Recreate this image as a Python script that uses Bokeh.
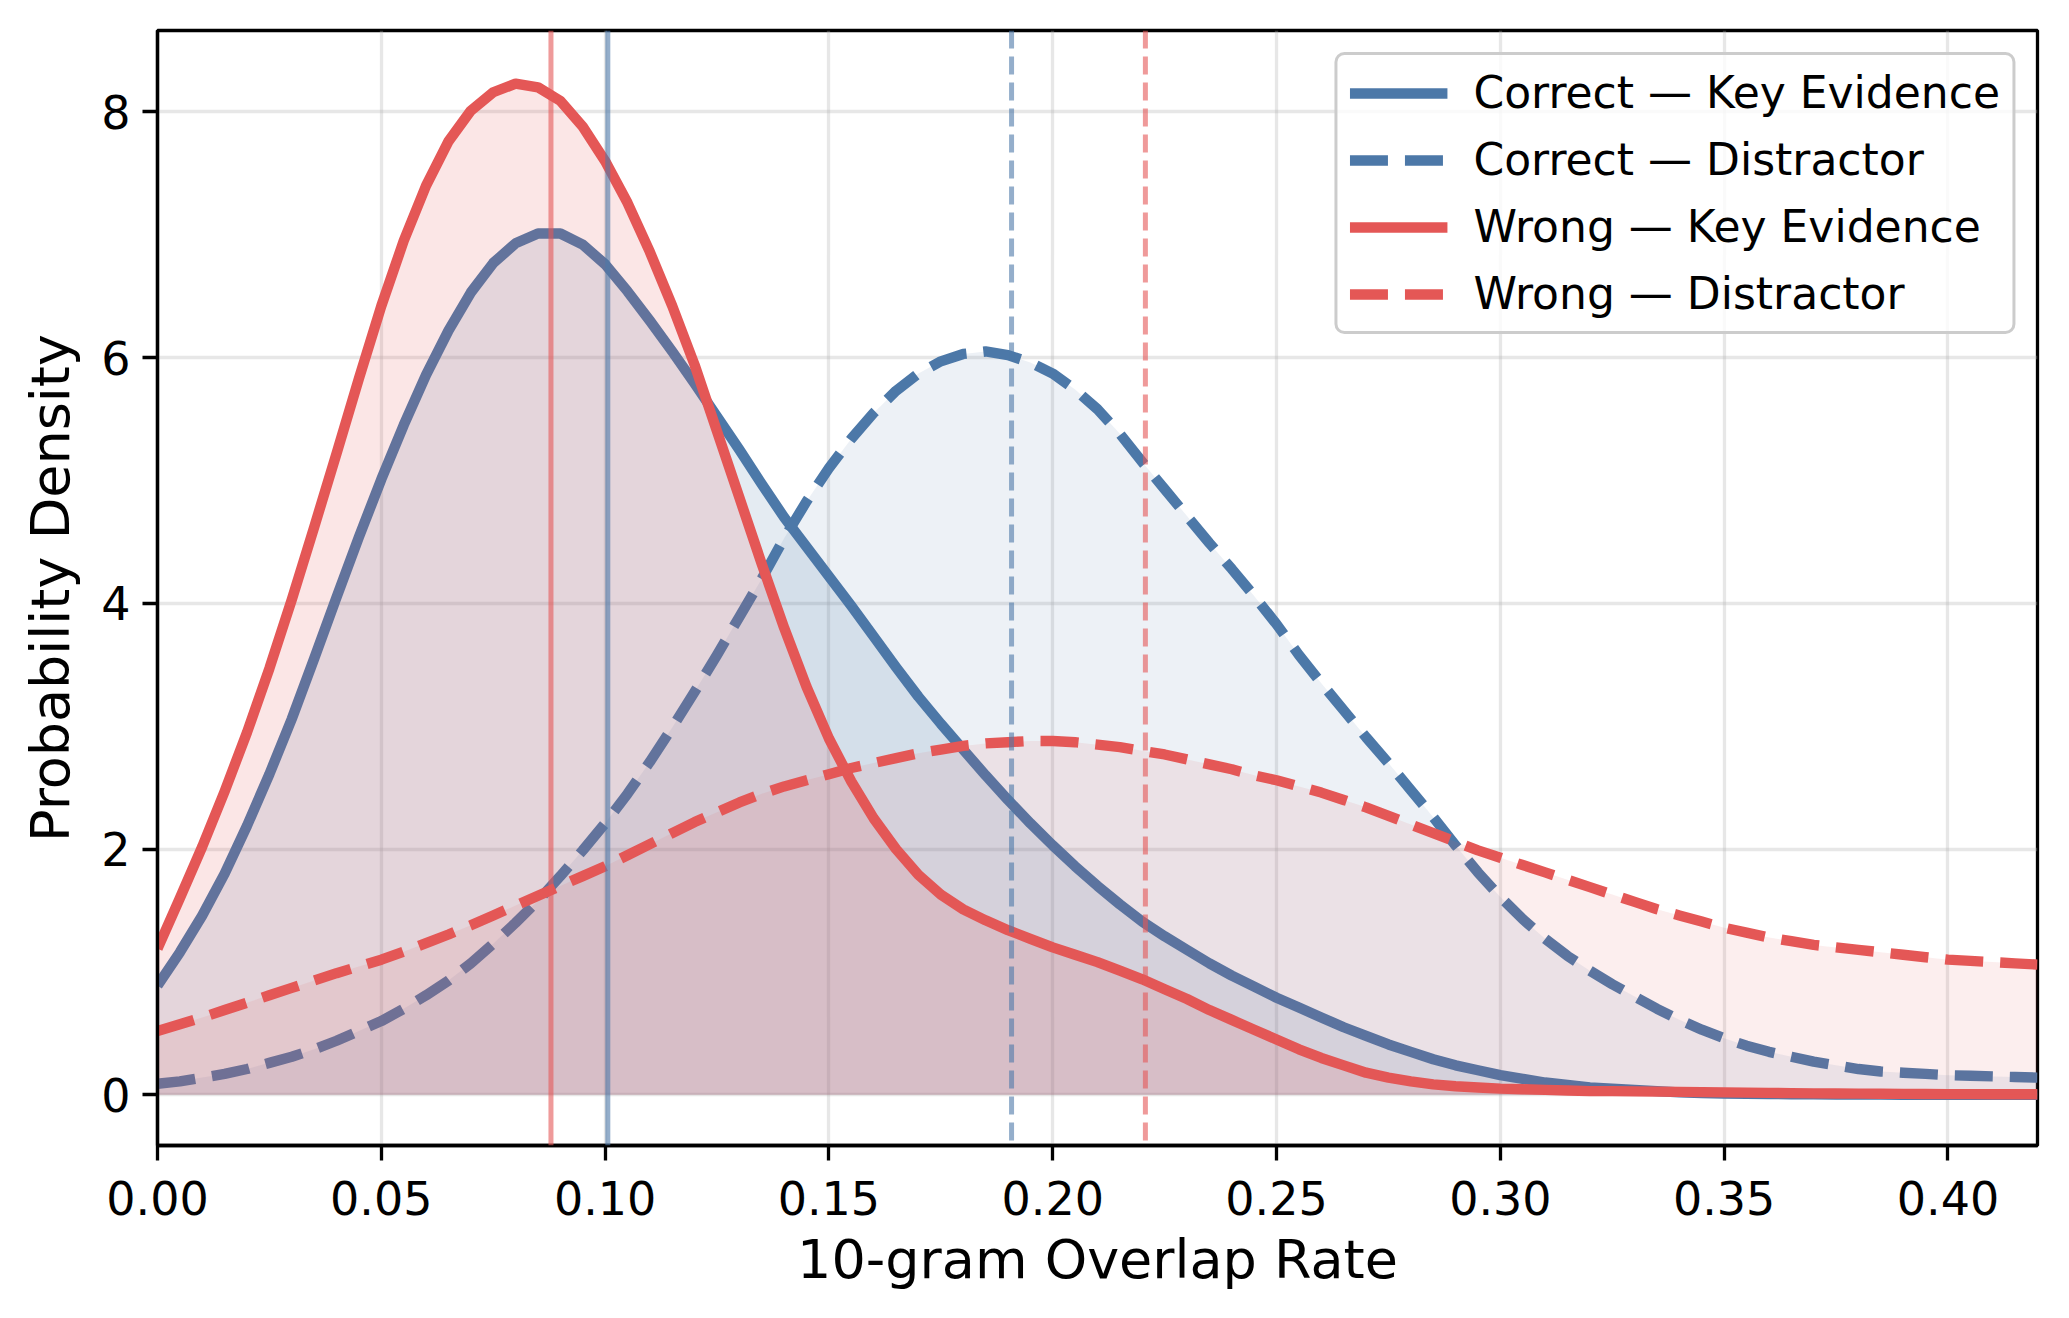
from bokeh.plotting import figure
from bokeh.models import (ColumnDataSource, Range1d, FixedTicker, Span, Legend,
                          LegendItem, PrintfTickFormatter)
from bokeh.embed import file_html
from bokeh.resources import INLINE

# ---------------- data ----------------
overlap_rate = [0.000, 0.005, 0.010, 0.015, 0.020, 0.025, 0.030, 0.035, 0.040, 0.045,
                0.050, 0.055, 0.060, 0.065, 0.070, 0.075, 0.080, 0.085, 0.090, 0.095,
                0.100, 0.105, 0.110, 0.115, 0.120, 0.125, 0.130, 0.135, 0.140, 0.145,
                0.150, 0.155, 0.160, 0.165, 0.170, 0.175, 0.180, 0.185, 0.190, 0.195,
                0.200, 0.205, 0.210, 0.215, 0.220, 0.225, 0.230, 0.235, 0.240, 0.245,
                0.250, 0.255, 0.260, 0.265, 0.270, 0.275, 0.280, 0.285, 0.290, 0.295,
                0.300, 0.305, 0.310, 0.315, 0.320, 0.325, 0.330, 0.335, 0.340, 0.345,
                0.350, 0.355, 0.360, 0.365, 0.370, 0.375, 0.380, 0.385, 0.390, 0.395,
                0.400, 0.405, 0.410, 0.415, 0.420]

correct_key = [0.89, 1.16, 1.46, 1.80, 2.19, 2.61, 3.06, 3.55, 4.05, 4.54,
               5.01, 5.45, 5.86, 6.22, 6.53, 6.77, 6.93, 7.01, 7.01, 6.92,
               6.76, 6.54, 6.30, 6.05, 5.79, 5.52, 5.25, 4.97, 4.70, 4.46,
               4.22, 3.98, 3.73, 3.48, 3.24, 3.02, 2.81, 2.60, 2.40, 2.21,
               2.03, 1.86, 1.70, 1.55, 1.41, 1.29, 1.18, 1.07, 0.97, 0.88,
               0.79, 0.71, 0.63, 0.55, 0.48, 0.41, 0.35, 0.29, 0.24, 0.20,
               0.16, 0.13, 0.10, 0.08, 0.06, 0.05, 0.04, 0.03, 0.02, 0.015,
               0.010, 0.008, 0.006, 0.005, 0.004, 0.003, 0.002, 0.002, 0.001, 0.001,
               0.001, 0.0, 0.0, 0.0, 0.0]

correct_distractor = [0.09, 0.11, 0.14, 0.17, 0.21, 0.26, 0.31, 0.37, 0.44, 0.52,
                      0.60, 0.70, 0.81, 0.93, 1.07, 1.23, 1.40, 1.58, 1.78, 1.99,
                      2.21, 2.45, 2.71, 2.99, 3.28, 3.58, 3.89, 4.20, 4.53, 4.83,
                      5.10, 5.34, 5.55, 5.73, 5.87, 5.97, 6.03, 6.05, 6.02, 5.96,
                      5.87, 5.74, 5.58, 5.38, 5.15, 4.93, 4.71, 4.49, 4.28, 4.06,
                      3.83, 3.58, 3.35, 3.13, 2.91, 2.70, 2.48, 2.26, 2.03, 1.81,
                      1.61, 1.43, 1.27, 1.13, 1.01, 0.90, 0.80, 0.70, 0.61, 0.53,
                      0.46, 0.40, 0.35, 0.31, 0.27, 0.24, 0.21, 0.19, 0.18, 0.17,
                      0.16, 0.155, 0.15, 0.145, 0.14]

wrong_key = [1.19, 1.60, 2.02, 2.47, 2.95, 3.47, 4.03, 4.62, 5.22, 5.83,
             6.42, 6.95, 7.40, 7.76, 8.01, 8.16, 8.23, 8.20, 8.09, 7.88,
             7.60, 7.26, 6.86, 6.42, 5.94, 5.40, 4.86, 4.32, 3.80, 3.32,
             2.90, 2.55, 2.25, 2.00, 1.79, 1.63, 1.51, 1.42, 1.34, 1.27,
             1.20, 1.14, 1.08, 1.01, 0.94, 0.86, 0.78, 0.69, 0.61, 0.53,
             0.45, 0.37, 0.30, 0.24, 0.18, 0.14, 0.11, 0.085, 0.07, 0.06,
             0.05, 0.045, 0.04, 0.035, 0.03, 0.03, 0.028, 0.026, 0.024, 0.022,
             0.020, 0.018, 0.016, 0.014, 0.012, 0.011, 0.010, 0.009, 0.008, 0.007,
             0.006, 0.006, 0.005, 0.005, 0.005]

wrong_distractor = [0.52, 0.575, 0.63, 0.69, 0.75, 0.81, 0.87, 0.93, 0.99, 1.045,
                    1.10, 1.165, 1.235, 1.305, 1.38, 1.46, 1.54, 1.62, 1.70, 1.78,
                    1.86, 1.95, 2.04, 2.13, 2.22, 2.30, 2.38, 2.45, 2.51, 2.56,
                    2.61, 2.66, 2.70, 2.74, 2.78, 2.81, 2.84, 2.86, 2.87, 2.88,
                    2.88, 2.87, 2.85, 2.83, 2.80, 2.77, 2.73, 2.69, 2.65, 2.60,
                    2.56, 2.51, 2.46, 2.40, 2.34, 2.27, 2.20, 2.13, 2.06, 1.99,
                    1.93, 1.87, 1.81, 1.75, 1.69, 1.63, 1.57, 1.51, 1.46, 1.41,
                    1.36, 1.32, 1.28, 1.25, 1.22, 1.20, 1.18, 1.16, 1.14, 1.12,
                    1.10, 1.09, 1.08, 1.07, 1.06]

# medians (vertical reference lines)
median_correct_key = 0.1006
median_correct_distractor = 0.1908
median_wrong_key = 0.0879
median_wrong_distractor = 0.2207

series_labels = ["Correct \u2014 Key Evidence", "Correct \u2014 Distractor",
                 "Wrong \u2014 Key Evidence", "Wrong \u2014 Distractor"]
x_ticks = [0.00, 0.05, 0.10, 0.15, 0.20, 0.25, 0.30, 0.35, 0.40]
y_ticks = [0, 2, 4, 6, 8]
x_label = "10-gram Overlap Rate"
y_label = "Probability Density"

# ---------------- styling ----------------
BLUE = "#4C78A8"
RED = "#E45756"
FONT = "DejaVu Sans"
DASH = "38 17"
VDASH = "18 8"

src = ColumnDataSource(dict(x=overlap_rate, ck=correct_key, cd=correct_distractor,
                            wk=wrong_key, wd=wrong_distractor))

p = figure(width=2053, height=1302, output_backend="svg", toolbar_location=None,
           x_range=Range1d(0, 0.42), y_range=Range1d(-0.4125, 8.6625),
           min_border_left=157, min_border_right=16, min_border_top=30,
           min_border_bottom=157)
p.background_fill_color = "white"
p.border_fill_color = "white"
p.outline_line_color = "black"
p.outline_line_width = 3.3

# grid
p.xgrid.ticker = FixedTicker(ticks=x_ticks)
p.ygrid.ticker = FixedTicker(ticks=y_ticks)
for g in (p.xgrid, p.ygrid):
    g.grid_line_color = "#b0b0b0"
    g.grid_line_alpha = 0.3
    g.grid_line_width = 3.3

# axes
p.xaxis.ticker = FixedTicker(ticks=x_ticks)
p.xaxis.formatter = PrintfTickFormatter(format="%.2f")
p.yaxis.ticker = FixedTicker(ticks=y_ticks)
p.xaxis.axis_label = x_label
p.yaxis.axis_label = y_label
for ax in (p.xaxis, p.yaxis):
    ax.axis_line_color = "black"
    ax.axis_line_width = 3.3
    ax.major_tick_line_color = "black"
    ax.major_tick_line_width = 3.3
    ax.major_tick_out = 15
    ax.major_tick_in = 0
    ax.minor_tick_line_color = None
    ax.major_label_text_font = FONT
    ax.major_label_text_font_size = "46px"
    ax.major_label_text_color = "black"
    ax.axis_label_text_font = FONT
    ax.axis_label_text_font_size = "54px"
    ax.axis_label_text_font_style = "normal"
    ax.axis_label_text_color = "black"
p.xaxis.major_label_standoff = 20
p.xaxis.axis_label_standoff = 10
p.yaxis.major_label_standoff = 12
p.yaxis.axis_label_standoff = 16

# fills + lines
specs = [("ck", BLUE, "solid", 0.15), ("cd", BLUE, DASH, 0.10),
         ("wk", RED, "solid", 0.15), ("wd", RED, DASH, 0.10)]
line_renderers = []
for col, color, dash, fa in specs:
    p.varea(x="x", y1=0, y2=col, source=src, fill_color=color, fill_alpha=fa)
    r = p.line(x="x", y=col, source=src, line_color=color, line_width=10.4,
               line_dash=dash, line_join="round")
    line_renderers.append(r)

# median lines
for loc, color, dash in [(median_correct_key, BLUE, "solid"),
                         (median_correct_distractor, BLUE, VDASH),
                         (median_wrong_key, RED, "solid"),
                         (median_wrong_distractor, RED, VDASH)]:
    p.add_layout(Span(location=loc, dimension="height", line_color=color,
                      line_width=5, line_alpha=0.6, line_dash=dash))

# legend
items = [LegendItem(label=lab, renderers=[r]) for lab, r in zip(series_labels, line_renderers)]
legend = Legend(items=items, location="top_right", margin=22, padding=12,
                spacing=16, glyph_width=98, glyph_height=50, label_height=50,
                label_standoff=26, label_text_font=FONT, label_text_font_size="44px",
                label_text_color="black", border_line_color="#cccccc",
                border_line_width=3, border_line_alpha=1.0,
                background_fill_color="white", background_fill_alpha=0.8)
try:
    legend.border_radius = 10
except Exception:
    pass
p.add_layout(legend)

open("out.html", "w").write(file_html(p, INLINE))
